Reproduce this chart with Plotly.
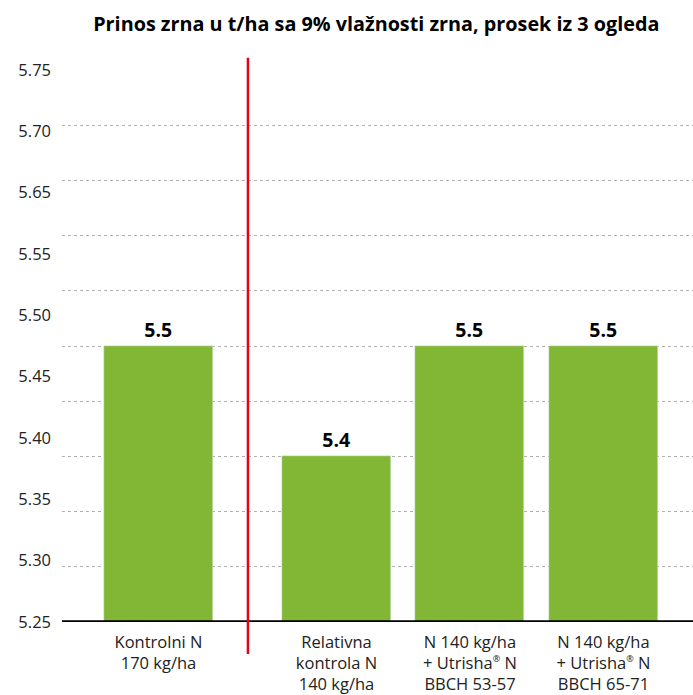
import plotly.graph_objects as go

# ---- data ----
REG = "<sup><span style='font-size:9px'>®</span></sup>"
categories = [
    "Kontrolni N<br>170 kg/ha",
    "Relativna<br>kontrola N<br>140 kg/ha",
    "N 140 kg/ha<br>+ Utrisha" + REG + " N<br>BBCH 53-57",
    "N 140 kg/ha<br>+ Utrisha" + REG + " N<br>BBCH 65-71",
]
values = [5.5, 5.4, 5.5, 5.5]
value_labels = ["5.5", "5.4", "5.5", "5.5"]
grid_vals = [5.25, 5.30, 5.35, 5.40, 5.45, 5.50, 5.55, 5.60, 5.65, 5.70, 5.75]
ytick_labels = ["5.25", "5.30", "5.35", "5.40", "5.45", "5.50", "5.55", "5.65", "5.70", "5.75"]
title = "Prinos zrna u t/ha sa 9% vlažnosti zrna, prosek iz 3 ogleda"

# ---- layout helpers ----
slots = [0, 4 / 3, 7 / 3, 10 / 3]  # bar centres (gap after the control)
divider_x = 0.67
FONT = "Open Sans, Noto Sans, sans-serif"
GREEN = "#82b736"

fig = go.Figure()
fig.add_trace(go.Bar(
    x=slots, y=values, width=0.8165, marker_color=GREEN,
    text=value_labels, textposition="outside",
    textfont=dict(family=FONT, size=19.5, color="black", weight="bold"),
    cliponaxis=False, hoverinfo="skip",
))
# invisible trace to drive second y axis labels
fig.add_trace(go.Scatter(x=[None], y=[None], yaxis="y2", showlegend=False))

fig.update_layout(
    width=693, height=695,
    margin=dict(l=62, r=0, t=70, b=73),
    plot_bgcolor="white", paper_bgcolor="white",
    showlegend=False, bargap=0,
    title=dict(text="<b>" + title + "</b>", x=0.543, xanchor="center",
               y=0.966, yanchor="middle",
               font=dict(family=FONT, size=19.8, color="black")),
    xaxis=dict(range=[-0.723, 4.004], tickvals=slots, ticktext=categories,
               showgrid=False, zeroline=False, showline=False, ticks="",
               ticklabelstandoff=8,
               tickfont=dict(family=FONT, size=16.5, color="#222")),
    yaxis=dict(range=[5.25, 5.75], tickvals=grid_vals, showticklabels=False,
               showgrid=True, gridcolor="#b0b0b0", griddash="dot", gridwidth=1,
               zeroline=False, showline=False, ticks=""),
    yaxis2=dict(overlaying="y", side="left", range=[0, 9],
                tickvals=list(range(len(ytick_labels))), ticktext=ytick_labels,
                showgrid=False, zeroline=False, showline=False, ticks="",
                ticklabelstandoff=10,
                tickfont=dict(family=FONT, size=16.5, color="#222")),
    shapes=[
        dict(type="line", xref="paper", yref="y", x0=0, x1=1, y0=5.25, y1=5.25,
             line=dict(color="black", width=3.5)),
        dict(type="line", xref="x", yref="paper", x0=divider_x, x1=divider_x,
             y0=-0.058, y1=1.022, line=dict(color="#e3001b", width=2.5)),
    ],
)

fig.write_html("out.html", config={"displayModeBar": False},
               post_script="document.body.style.margin='0';")
